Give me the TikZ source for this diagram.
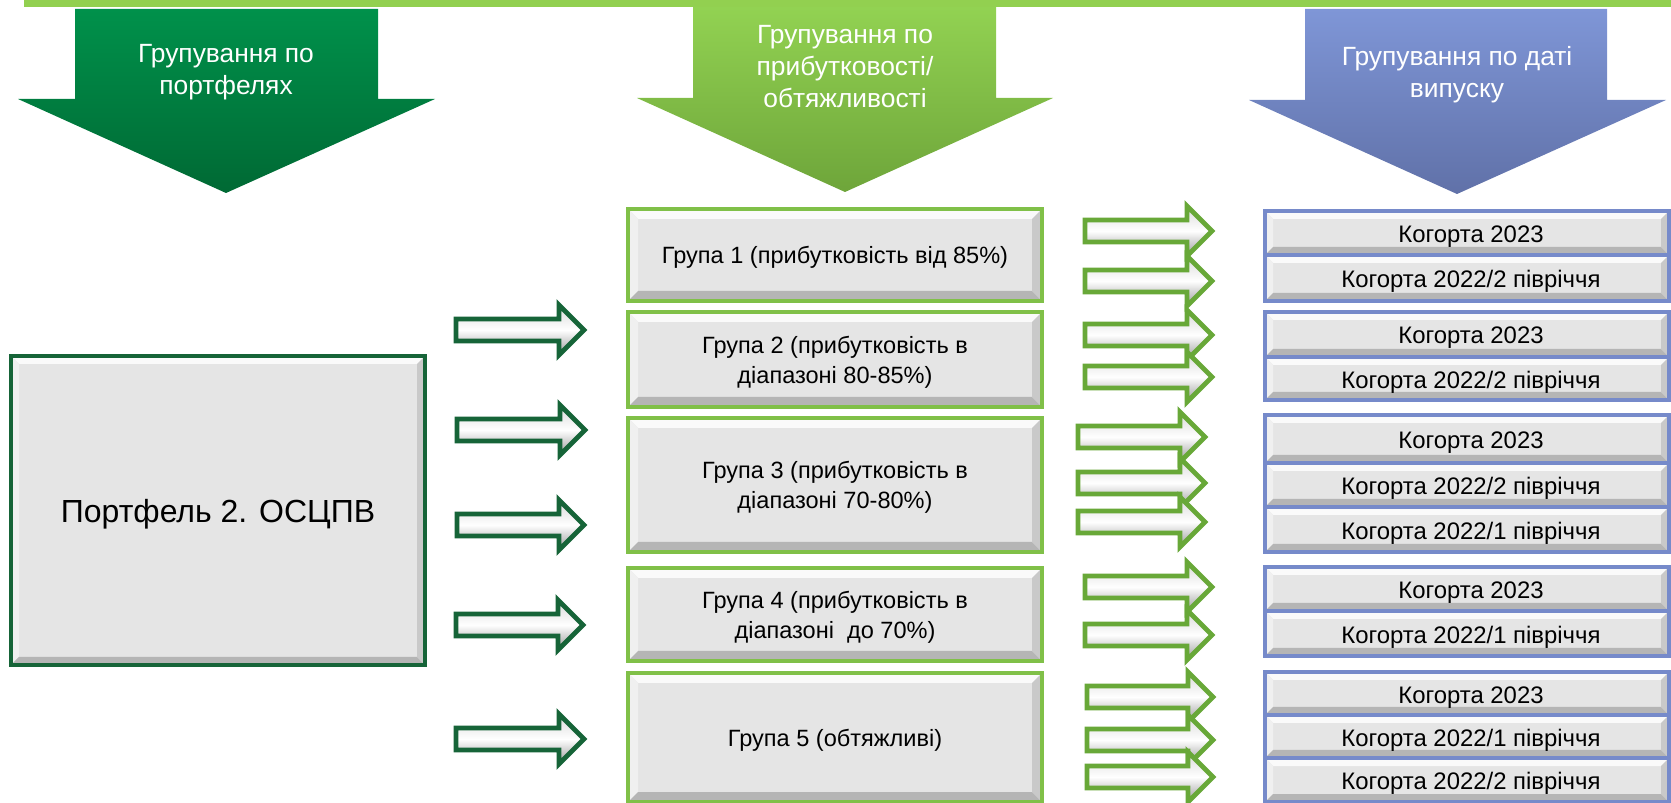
\documentclass[tikz,border=0pt]{standalone}
\usepackage{fontspec}
\setmainfont{Liberation Sans}
\definecolor{topgreen}{RGB}{146,208,80}
\definecolor{portgreen}{RGB}{0,145,75}
\definecolor{portgreendk}{RGB}{0,105,52}
\definecolor{yieldgreen}{RGB}{146,210,82}
\definecolor{yieldgreendk}{RGB}{110,165,58}
\definecolor{dateblue}{RGB}{127,150,215}
\definecolor{datebluedk}{RGB}{96,113,168}
\definecolor{portline}{RGB}{22,100,56}
\definecolor{grpline}{RGB}{128,192,72}
\definecolor{rarrline}{RGB}{104,168,56}
\definecolor{cohline}{RGB}{118,138,202}
\def\bevelbox[#1](#2,#3)(#4,#5)#6{%
\fill[gray!20] (#2,#3) rectangle (#4,#5);
\fill[gray!4] (#2,#3) -- (#4,#3) -- ({#4-#6},{#3+#6}) -- ({#2+#6},{#3+#6}) -- cycle;
\fill[gray!12] (#2,#3) -- ({#2+#6},{#3+#6}) -- ({#2+#6},{#5-#6}) -- (#2,#5) -- cycle;
\fill[gray!58] (#2,#5) -- (#4,#5) -- ({#4-#6},{#5-#6}) -- ({#2+#6},{#5-#6}) -- cycle;
\fill[gray!42] (#4,#3) -- ({#4-#6},{#3+#6}) -- ({#4-#6},{#5-#6}) -- (#4,#5) -- cycle;
\draw[#1] (#2,#3) rectangle (#4,#5);}
\def\blockarrow[#1](#2,#3)(#4){%
\shadedraw[#1] (#2,{#3-11}) -- ({#4-25},{#3-11}) -- ({#4-25},{#3-25}) -- (#4,#3) -- ({#4-25},{#3+25}) -- ({#4-25},{#3+11}) -- (#2,{#3+11}) -- cycle;}
\tikzset{
  portedge/.style={draw=portline, line width=2.4pt},
  grpedge/.style={draw=grpline, line width=2.2pt},
  cohedge/.style={draw=cohline, line width=1.8pt},
  larrow/.style={draw=portline, line width=2.8pt, top color=gray!30, bottom color=gray!80, middle color=white},
  rarrow/.style={draw=rarrline, line width=2.8pt, top color=gray!30, bottom color=gray!80, middle color=white},
  headtext/.style={text=white, align=center, font=\fontsize{15}{18.2}\selectfont},
  grptext/.style={align=center, font=\fontsize{13.4}{17}\selectfont},
  cohtext/.style={font=\fontsize{13.6}{16}\selectfont},
  bigtext/.style={font=\fontsize{18.2}{22}\selectfont}
}
\begin{document}
\begin{tikzpicture}[x=0.02cm, y=-0.02cm]
		%%%%% START %%%%%
		\useasboundingbox (0,0) rectangle (1671,803);
		
		\fill[topgreen] (24,0) rectangle (1680,7);
		
		\shade[top color=portgreen, bottom color=portgreendk] (75,9) -- (378,9) -- (378,99) -- (435,99) -- (226,193) -- (18,99) -- (75,99) -- cycle;
		\shade[top color=yieldgreen, bottom color=yieldgreendk] (693,7) -- (996,7) -- (996,98) -- (1053,98) -- (845,192) -- (637,98) -- (693,98) -- cycle;
		\shade[top color=dateblue, bottom color=datebluedk] (1305,9) -- (1607,9) -- (1607,100) -- (1666,100) -- (1457,194) -- (1249,100) -- (1305,100) -- cycle;
		
		\node[headtext] (head1) at (226,72) {Групування по\\портфелях};
		\node[headtext] (head2) at (845,67) {Групування по\\прибутковості/\\обтяжливості};
		\node[headtext] (head3) at (1457,75) {Групування по даті\\випуску};
		
		\bevelbox[portedge](11,356)(425,665){8}
		\node[bigtext] (port) at (218,514) {Портфель 2. ОСЦПВ};
		
		\blockarrow[larrow](456,330)(584)
		\blockarrow[larrow](457,430)(585)
		\blockarrow[larrow](457,525)(584)
		\blockarrow[larrow](456,625)(583)
		\blockarrow[larrow](456,739)(584)
		
		\bevelbox[grpedge](628,209)(1042,301){10}
		\bevelbox[grpedge](628,312)(1042,407){10}
		\bevelbox[grpedge](628,418)(1042,552){10}
		\bevelbox[grpedge](628,568)(1042,661){10}
		\bevelbox[grpedge](628,673)(1042,802){10}
		\node[grptext] (grp1) at (835,257) {Група 1 (прибутковість від 85\%)};
		\node[grptext] (grp2) at (835,362) {Група 2 (прибутковість в\\діапазоні 80-85\%)};
		\node[grptext] (grp3) at (835,487) {Група 3 (прибутковість в\\діапазоні 70-80\%)};
		\node[grptext] (grp4) at (835,617) {Група 4 (прибутковість в\\діапазоні\ \ до 70\%)};
		\node[grptext] (grp5) at (835,740) {Група 5 (обтяжливі)};
		
		\blockarrow[rarrow](1085,231)(1212)
		\blockarrow[rarrow](1085,281)(1212)
		\blockarrow[rarrow](1085,335)(1212)
		\blockarrow[rarrow](1085,377)(1212)
		\blockarrow[rarrow](1078,437)(1205)
		\blockarrow[rarrow](1078,483)(1205)
		\blockarrow[rarrow](1078,522)(1205)
		\blockarrow[rarrow](1085,587)(1212)
		\blockarrow[rarrow](1085,635)(1212)
		\blockarrow[rarrow](1087,697)(1213)
		\blockarrow[rarrow](1087,740)(1213)
		\blockarrow[rarrow](1087,777)(1213)
		
		\bevelbox[cohedge](1265,211)(1669,255){8}
		\bevelbox[cohedge](1265,255)(1669,301){8}
		\node[cohtext] (coh11) at (1471,237) {Когорта 2023};
		\node[cohtext] (coh12) at (1471,281) {Когорта 2022/2 півріччя};
		
		\bevelbox[cohedge](1265,312)(1669,357){8}
		\bevelbox[cohedge](1265,357)(1669,400){8}
		\node[cohtext] (coh21) at (1471,338) {Когорта 2023};
		\node[cohtext] (coh22) at (1471,382) {Когорта 2022/2 півріччя};
		
		\bevelbox[cohedge](1265,415)(1669,463){8}
		\bevelbox[cohedge](1265,463)(1669,507){8}
		\bevelbox[cohedge](1265,507)(1669,552){8}
		\node[cohtext] (coh31) at (1471,443) {Когорта 2023};
		\node[cohtext] (coh32) at (1471,488) {Когорта 2022/2 півріччя};
		\node[cohtext] (coh33) at (1471,533) {Когорта 2022/1 півріччя};
		
		\bevelbox[cohedge](1265,567)(1669,611){8}
		\bevelbox[cohedge](1265,611)(1669,656){8}
		\node[cohtext] (coh41) at (1471,593) {Когорта 2023};
		\node[cohtext] (coh42) at (1471,637) {Когорта 2022/1 півріччя};
		
		\bevelbox[cohedge](1265,672)(1669,715){8}
		\bevelbox[cohedge](1265,715)(1669,758){8}
		\bevelbox[cohedge](1265,758)(1669,802){8}
		\node[cohtext] (coh51) at (1471,698) {Когорта 2023};
		\node[cohtext] (coh52) at (1471,740) {Когорта 2022/1 півріччя};
		\node[cohtext] (coh53) at (1471,783) {Когорта 2022/2 півріччя};
		
		%%%%% END %%%%%
	\end{tikzpicture}
\end{document}
